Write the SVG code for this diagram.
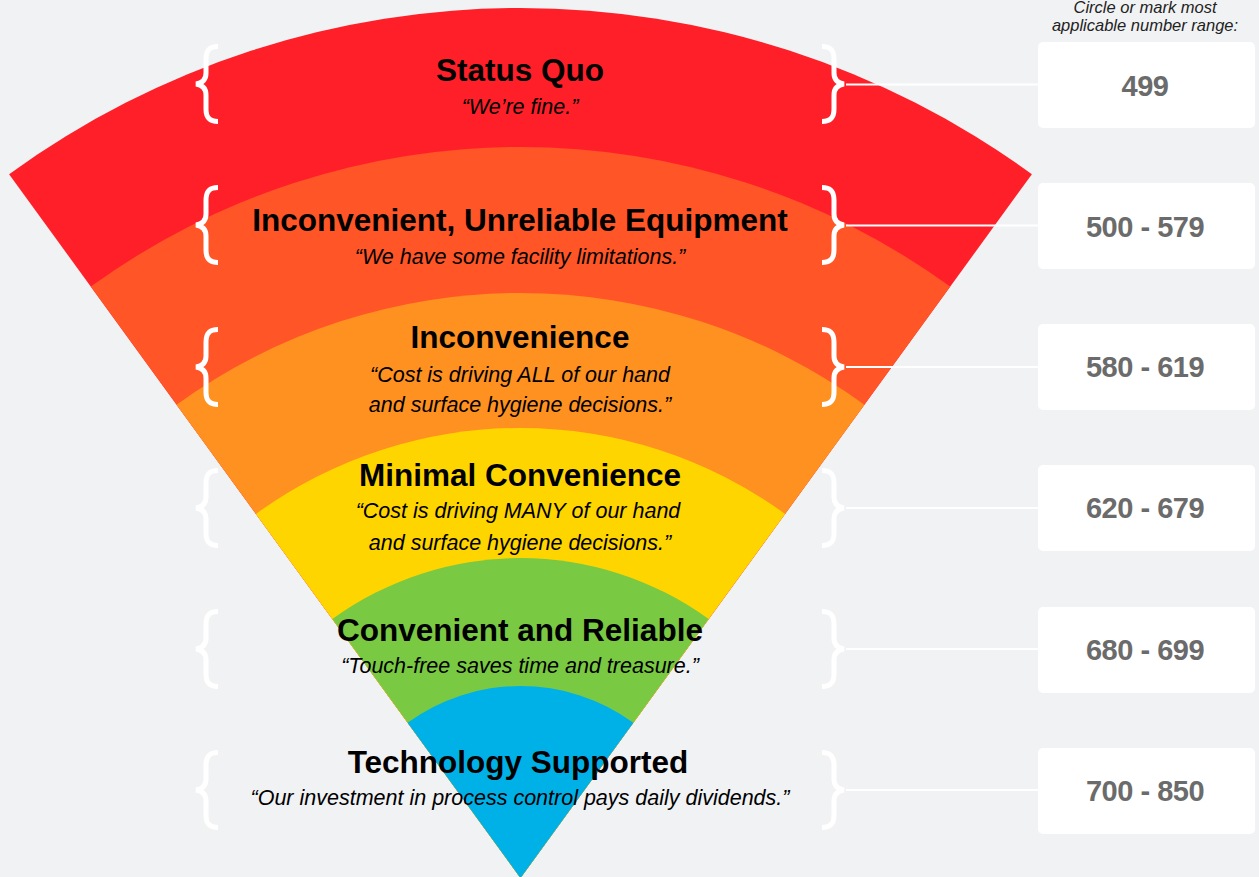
<svg xmlns="http://www.w3.org/2000/svg" xmlns:xlink="http://www.w3.org/1999/xlink" width="1259" height="877" viewBox="0 0 1259 877">
  <style>
    .t { font-family: "Liberation Sans", Arial, sans-serif; font-weight: bold; font-size: 31.5px; fill: #000; text-anchor: middle; }
    .s { font-family: "Liberation Sans", Arial, sans-serif; font-style: italic; font-size: 21.5px; fill: #000; text-anchor: middle; }
    .n { font-family: "Liberation Sans", Arial, sans-serif; font-weight: bold; font-size: 29px; letter-spacing: -0.5px; fill: #6b6b6b; text-anchor: middle; }
    .h { font-family: "Liberation Sans", Arial, sans-serif; font-style: italic; font-size: 16.5px; fill: #222; text-anchor: middle; }
    .box { fill: #fff; }
    .brace { fill: none; stroke: #fff; stroke-width: 5; stroke-linejoin: miter; stroke-miterlimit: 6; }
    .line { stroke: #fff; stroke-width: 2; }
  </style>
  <defs>
    <path id="brace" d="M 218,-37.5 C 209,-37.5 206,-33 206,-25 L 206,-11 C 206,-5 203,-1 196,0 C 203,1 206,5 206,11 L 206,25 C 206,33 209,37.5 218,37.5"/>
  </defs>
  <rect width="1259" height="877" fill="#f1f2f4"/>

  <g id="band-status-quo">
    <path d="M 520.5,878 L 9.1,174.2 A 870 870 0 0 1 1031.9,174.2 Z" fill="#ff1f29"/>
  </g>
  <g id="band-unreliable-equipment">
    <path d="M 520.5,878 L 90.8,286.6 A 731 731 0 0 1 950.2,286.6 Z" fill="#ff5527"/>
  </g>
  <g id="band-inconvenience">
    <path d="M 520.5,878 L 176.6,404.7 A 585 585 0 0 1 864.4,404.7 Z" fill="#ff9120"/>
  </g>
  <g id="band-minimal-convenience">
    <path d="M 520.5,878 L 256,513.9 A 450 450 0 0 1 785,513.9 Z" fill="#ffd500"/>
  </g>
  <g id="band-convenient-reliable">
    <path d="M 520.5,878 L 332.4,619.1 A 320 320 0 0 1 708.6,619.1 Z" fill="#7ac943"/>
  </g>
  <g id="band-technology-supported">
    <path d="M 520.5,878 L 407.6,722.7 A 192 192 0 0 1 633.4,722.7 Z" fill="#00b1e8"/>
  </g>

  <g id="labels">
    <g id="label-status-quo">
      <text class="t" x="520" y="81">Status Quo</text>
      <text class="s" x="520" y="114">“We’re fine.”</text>
    </g>
    <g id="label-unreliable-equipment">
      <text class="t" x="520" y="231">Inconvenient, Unreliable Equipment</text>
      <text class="s" x="520" y="264">“We have some facility limitations.”</text>
    </g>
    <g id="label-inconvenience">
      <text class="t" x="520" y="348">Inconvenience</text>
      <text class="s" x="520" y="382">“Cost is driving ALL of our hand</text>
      <text class="s" x="520" y="412">and surface hygiene decisions.”</text>
    </g>
    <g id="label-minimal-convenience">
      <text class="t" x="520" y="486">Minimal Convenience</text>
      <text class="s" x="518" y="518">“Cost is driving MANY of our hand</text>
      <text class="s" x="520" y="550">and surface hygiene decisions.”</text>
    </g>
    <g id="label-convenient-reliable">
      <text class="t" x="520" y="641">Convenient and Reliable</text>
      <text class="s" x="520" y="673">“Touch-free saves time and treasure.”</text>
    </g>
    <g id="label-technology-supported">
      <text class="t" x="518" y="773">Technology Supported</text>
      <text class="s" x="520" y="805">“Our investment in process control pays daily dividends.”</text>
    </g>
  </g>

  <g id="header">
    <text class="h" x="1145" y="13">Circle or mark most</text>
    <text class="h" x="1145" y="31">applicable number range:</text>
  </g>

  <g id="connectors">
    <use href="#brace" xlink:href="#brace" class="brace" transform="translate(0,84)"/>
    <use href="#brace" xlink:href="#brace" class="brace" transform="translate(0,225)"/>
    <use href="#brace" xlink:href="#brace" class="brace" transform="translate(0,367)"/>
    <use href="#brace" xlink:href="#brace" class="brace" transform="translate(0,508)"/>
    <use href="#brace" xlink:href="#brace" class="brace" transform="translate(0,649)"/>
    <use href="#brace" xlink:href="#brace" class="brace" transform="translate(0,790)"/>
    <use href="#brace" xlink:href="#brace" class="brace" transform="translate(1040,84) scale(-1,1)"/>
    <use href="#brace" xlink:href="#brace" class="brace" transform="translate(1040,225) scale(-1,1)"/>
    <use href="#brace" xlink:href="#brace" class="brace" transform="translate(1040,367) scale(-1,1)"/>
    <use href="#brace" xlink:href="#brace" class="brace" transform="translate(1040,508) scale(-1,1)"/>
    <use href="#brace" xlink:href="#brace" class="brace" transform="translate(1040,649) scale(-1,1)"/>
    <use href="#brace" xlink:href="#brace" class="brace" transform="translate(1040,790) scale(-1,1)"/>
    <line class="line" x1="846" y1="84.5" x2="1038" y2="84.5"/>
    <line class="line" x1="846" y1="225.5" x2="1038" y2="225.5"/>
    <line class="line" x1="846" y1="367" x2="1038" y2="367"/>
    <line class="line" x1="846" y1="508" x2="1038" y2="508"/>
    <line class="line" x1="846" y1="649" x2="1038" y2="649"/>
    <line class="line" x1="846" y1="790" x2="1038" y2="790"/>
  </g>

  <g id="box-499">
    <rect class="box" x="1038" y="42" width="217" height="86" rx="5"/>
    <text class="n" x="1145" y="96">499</text>
  </g>
  <g id="box-500-579">
    <rect class="box" x="1038" y="183" width="217" height="86" rx="5"/>
    <text class="n" x="1145" y="237">500 - 579</text>
  </g>
  <g id="box-580-619">
    <rect class="box" x="1038" y="324" width="217" height="86" rx="5"/>
    <text class="n" x="1145" y="377">580 - 619</text>
  </g>
  <g id="box-620-679">
    <rect class="box" x="1038" y="465" width="217" height="86" rx="5"/>
    <text class="n" x="1145" y="518">620 - 679</text>
  </g>
  <g id="box-680-699">
    <rect class="box" x="1038" y="607" width="217" height="86" rx="5"/>
    <text class="n" x="1145" y="660">680 - 699</text>
  </g>
  <g id="box-700-850">
    <rect class="box" x="1038" y="748" width="217" height="86" rx="5"/>
    <text class="n" x="1145" y="801">700 - 850</text>
  </g>
</svg>
